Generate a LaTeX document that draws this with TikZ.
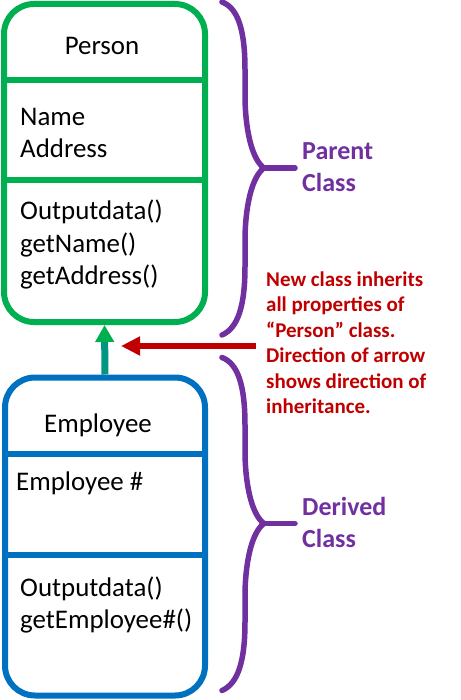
\documentclass[tikz,border=0pt]{standalone}
\usepackage{fontspec}
\setmainfont{Carlito}
\usetikzlibrary{arrows.meta}
\definecolor{pgreen}{RGB}{0,176,80}
\definecolor{pblue}{RGB}{0,112,192}
\definecolor{pred}{RGB}{192,0,0}
\definecolor{ppurple}{RGB}{112,48,160}
\definecolor{pteal}{RGB}{0,150,130}
\begin{document}
\begin{tikzpicture}[x=1pt,y=-1pt,
  classbox/.style={draw, line width=6pt, rounded corners=30pt, inner sep=0pt},
  divider/.style={line width=6pt},
  txt/.style={anchor=base west, inner sep=0pt, font=\fontsize{26.9}{32}\selectfont},
  ttl/.style={anchor=base, inner sep=0pt, font=\fontsize{26.9}{32}\selectfont},
  lbl/.style={anchor=base west, inner sep=0pt, text=ppurple, font=\fontsize{26}{31}\selectfont\bfseries},
  note/.style={anchor=base west, inner sep=0pt, text=pred, font=\fontsize{21}{25}\selectfont\bfseries},
  brace/.style={draw=ppurple, line width=5.5pt, line cap=round, line join=round},
  inharr/.style={draw=pteal, line width=7pt, -{Triangle[width=18pt,length=17pt,color=pgreen]}},
  redarr/.style={draw=pred, line width=6pt, -{Triangle[width=18pt,length=19pt]}}
]
\useasboundingbox (0,0) rectangle (460,700);

% Parent class box
\node[classbox, draw=pgreen, minimum width=201pt, minimum height=318pt] (person) at (104.5,163) {};
\draw[pgreen, divider] (person.west |- 0,80) -- (person.east |- 0,80);
\draw[pgreen, divider] (person.west |- 0,180) -- (person.east |- 0,180);
\node[ttl] (ptitle) at (102,55) {Person};
\node[txt] (pa1) at (20,126) {Name};
\node[txt] (pa2) at (20,158) {Address};
\node[txt] (pm1) at (20,220) {Outputdata()};
\node[txt] (pm2) at (20,252) {getName()};
\node[txt] (pm3) at (20,284) {getAddress()};

% Derived class box
\node[classbox, draw=pblue, minimum width=200pt, minimum height=318pt] (emp) at (105,536.5) {};
\draw[pblue, divider] (emp.west |- 0,454) -- (emp.east |- 0,454);
\draw[pblue, divider] (emp.west |- 0,555) -- (emp.east |- 0,555);
\node[ttl] (etitle) at (98,432) {Employee};
\node[txt] (ea1) at (16,490) {Employee \#};
\node[txt] (em1) at (20,596) {Outputdata()};
\node[txt] (em2) at (20,628) {getEmployee\#()};

% inheritance arrow
\draw[inharr] (emp.north) -- (person.south);

% red pointer arrow
\coordinate (rtail) at (256,346);
\coordinate (rtip) at (121,346);
\draw[redarr] (rtail) -- (rtip);

% braces
\draw[brace] (222,2) .. controls (238,8) and (245,30) .. (245,70) -- (245,100)
  .. controls (246,135) and (253,160) .. (264,168)
  .. controls (253,176) and (246,201) .. (245,236) -- (245,266)
  .. controls (245,306) and (238,328) .. (222,335);
\draw[brace] (262,168) -- (295,168);
\begin{scope}[shift={(0,355.5)}]
\draw[brace] (222,2) .. controls (238,8) and (245,30) .. (245,70) -- (245,100)
  .. controls (246,135) and (253,160) .. (264,168)
  .. controls (253,176) and (246,201) .. (245,236) -- (245,266)
  .. controls (245,306) and (238,328) .. (222,335);
\draw[brace] (262,168) -- (295,168);
\end{scope}

% labels
\node[lbl] (parent1) at (302,160) {Parent};
\node[lbl] (parent2) at (302,191.7) {Class};
\node[lbl] (derived1) at (302,515.7) {Derived};
\node[lbl] (derived2) at (302,547.7) {Class};

% note
\node[note] (n1) at (266,286) {New class inherits};
\node[note] (n2) at (266,311.7) {all properties of};
\node[note] (n3) at (266,337) {“Person” class.};
\node[note] (n4) at (266,362.7) {Direction of arrow};
\node[note] (n5) at (266,388) {shows direction of};
\node[note] (n6) at (266,413.5) {inheritance.};
\end{tikzpicture}
\end{document}
